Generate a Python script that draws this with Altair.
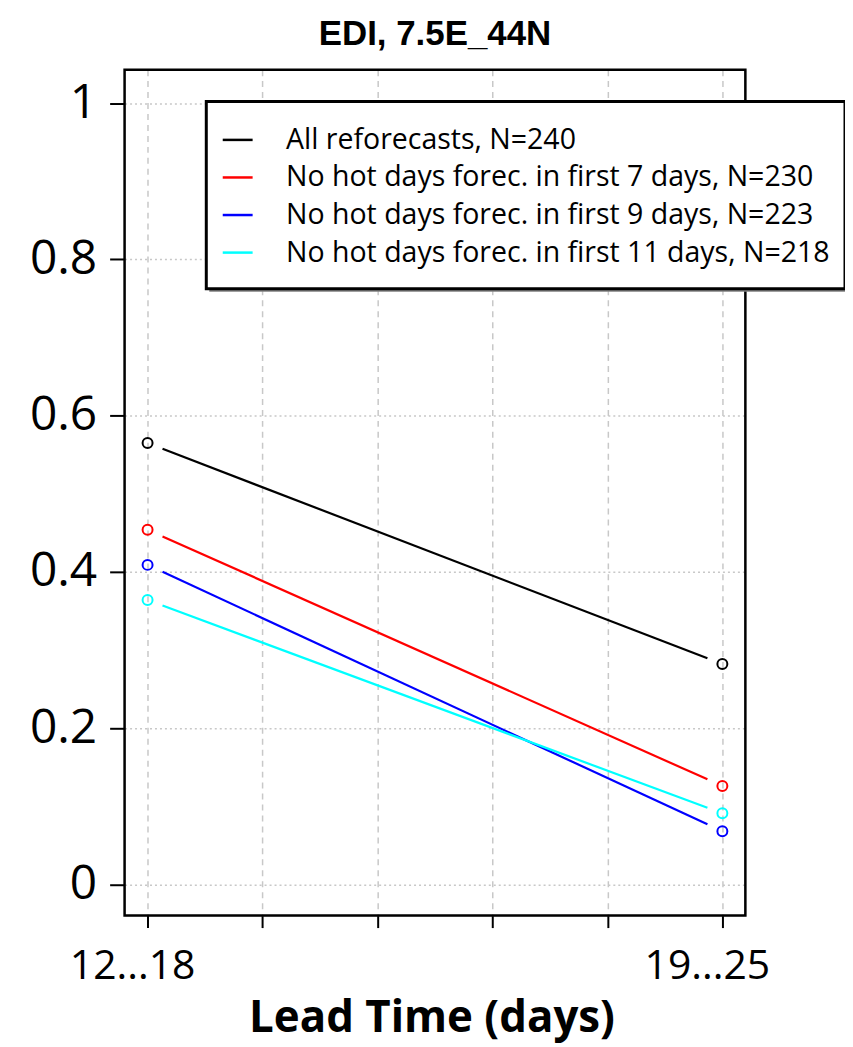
import altair as alt
import pandas as pd

# ---------------- data ----------------
series_names = [
    "All reforecasts, N=240",
    "No hot days forec. in first 7 days, N=230",
    "No hot days forec. in first 9 days, N=223",
    "No hot days forec. in first 11 days, N=218",
]
series_colors = ["#000000", "#ff0000", "#0000ff", "#00ffff"]
lead_positions = [1, 6]
lead_labels = ["12...18", "19...25"]
edi_12_18 = [0.565, 0.454, 0.409, 0.364]
edi_19_25 = [0.282, 0.126, 0.068, 0.091]

x_tick_values = [1, 2, 3, 4, 5, 6]
y_tick_values = [0, 0.2, 0.4, 0.6, 0.8, 1]

# ---------------- tables ----------------
n = len(series_names)
points = pd.DataFrame({
    "series": series_names * 2,
    "lead": [lead_positions[0]] * n + [lead_positions[1]] * n,
    "edi": edi_12_18 + edi_19_25,
})
segments = pd.DataFrame({
    "series": series_names,
    "x0": [lead_positions[0]] * n,
    "x1": [lead_positions[1]] * n,
    "v0": edi_12_18,
    "v1": edi_19_25,
})
tick_labels = pd.DataFrame({"lead": lead_positions, "label": lead_labels})

GAP = 0.026  # R type="b" gap between point and line, fraction of segment

W, H = 623, 849

x_scale = alt.Scale(domain=[0.8, 6.2], nice=False, zero=False)
y_scale = alt.Scale(domain=[-0.04, 1.043], nice=False, zero=False)
color_scale = alt.Scale(domain=series_names, range=series_colors)

x_axis = alt.Axis(
    values=x_tick_values, labels=False,
    title="Lead Time (days)",
    grid=True, gridDash=[6, 5], gridColor="#c8c8c8", gridWidth=1.5,
    domain=False, ticks=True, tickSize=12, tickWidth=2, tickColor="#000000",
    titleFont="Open Sans", titleFontSize=44, titleFontWeight="bold",
    titleColor="#000000", titleX=308, titleY=116, titleBaseline="alphabetic",
    titleAlign="center", titleAnchor="start",
)
y_axis = alt.Axis(
    values=y_tick_values, format="~g", title=None,
    grid=True, gridDash=[2, 3], gridColor="#c8c8c8", gridWidth=1.5,
    domain=False, ticks=True, tickSize=15, tickWidth=2, tickColor="#000000",
    labelFont="Open Sans", labelFontSize=48, labelColor="#000000", labelPadding=13,
    labelOverlap=False, labelFlush=False,
)

deco = alt.Data(values=[{}])

frame = alt.Chart(deco).mark_rect(
    fillOpacity=0, stroke="#000000", strokeWidth=2.5
).encode(x=alt.value(0), x2=alt.value(W), y=alt.value(0), y2=alt.value(H))

lines = alt.Chart(segments).transform_calculate(
    xs=f"datum.x0 + {GAP} * (datum.x1 - datum.x0)",
    xe=f"datum.x1 - {GAP} * (datum.x1 - datum.x0)",
    ys=f"datum.v0 + {GAP} * (datum.v1 - datum.v0)",
    ye=f"datum.v1 - {GAP} * (datum.v1 - datum.v0)",
).mark_rule(strokeWidth=2.2).encode(
    x=alt.X("xs:Q", scale=x_scale, axis=x_axis),
    x2="xe:Q",
    y=alt.Y("ys:Q", scale=y_scale, axis=y_axis),
    y2="ye:Q",
    color=alt.Color(
        "series:N", scale=color_scale,
        legend=alt.Legend(
            orient="none", legendX=97, legendY=54, title=None,
            symbolType="stroke", symbolSize=900, symbolStrokeWidth=2.5,
            labelFont="Open Sans", labelFontSize=28.6, labelColor="#000000",
            labelOffset=32, labelLimit=0, rowPadding=5.7, padding=0,
        ),
    ),
)

pts = alt.Chart(points).mark_point(
    shape="circle", filled=False, size=100, strokeWidth=2, opacity=1
).encode(
    x=alt.X("lead:Q", scale=x_scale),
    y=alt.Y("edi:Q", scale=y_scale),
    color=alt.Color("series:N", scale=color_scale, legend=None),
)

xlabels = alt.Chart(tick_labels).mark_text(
    font="Open Sans", fontSize=41, color="#000000",
    align="center", baseline="top", dx=-15,
).encode(
    x=alt.X("lead:Q", scale=x_scale),
    y=alt.value(H + 32),
    text="label:N",
)

shadow = alt.Chart(deco).mark_rect(fill="#7f7f7f").encode(
    x=alt.value(85), x2=alt.value(726), y=alt.value(35), y2=alt.value(223)
)
box = alt.Chart(deco).mark_rect(fill="#ffffff", stroke="#000000", strokeWidth=3).encode(
    x=alt.value(82), x2=alt.value(723), y=alt.value(32), y2=alt.value(220)
)

chart = alt.layer(frame, lines, pts, xlabels, shadow, box).properties(
    width=W, height=H,
    title=alt.TitleParams(
        "EDI, 7.5E_44N",
        font="Liberation Sans Narrow, Arial Narrow, Liberation Sans, sans-serif",
        fontSize=35, fontWeight="bold", color="#000000",
        anchor="middle", baseline="alphabetic", offset=24, dy=36,
    ),
    padding={"left": 117, "top": 60, "right": 100, "bottom": 136},
    autosize=alt.AutoSizeParams(type="none"),
).configure_view(stroke=None).configure(background="#ffffff")

chart.save("out.html", embed_options={"renderer": "svg", "actions": False})
